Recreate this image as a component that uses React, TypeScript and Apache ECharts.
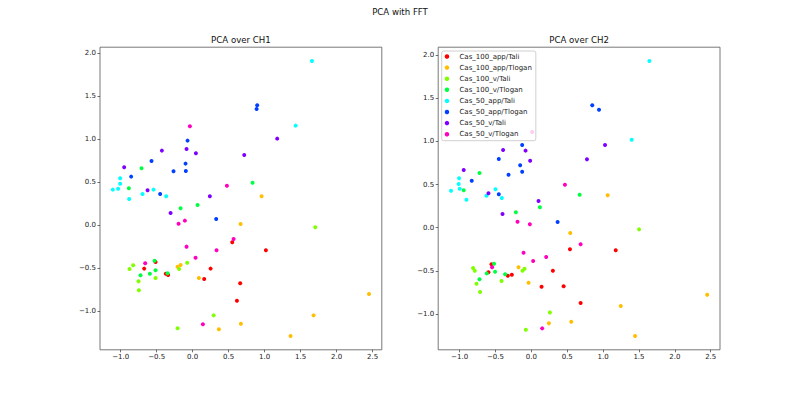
import React, { useEffect, useRef } from "react";
import * as echarts from "echarts";

const seriesNames = [
  "Cas_100_app/Tali",
  "Cas_100_app/Tlogan",
  "Cas_100_v/Tali",
  "Cas_100_v/Tlogan",
  "Cas_50_app/Tali",
  "Cas_50_app/Tlogan",
  "Cas_50_v/Tali",
  "Cas_50_v/Tlogan",
];
const seriesColors = ["#ff0000", "#ffbf00", "#80ff00", "#00ff40", "#00ffff", "#0040ff", "#8000ff", "#ff00bf"];

const xTicks = [-1, -0.5, 0, 0.5, 1, 1.5, 2, 2.5];
const yTicks = [-1, -0.5, 0, 0.5, 1, 1.5, 2];

// ---- CH1 ----
const ch1App100Tali = [[0.550, -0.197], [1.018, -0.290], [0.249, -0.502], [0.160, -0.623], [-0.516, -0.425], [-0.674, -0.502], [-0.373, -0.561], [-0.341, -0.576], [0.661, -0.673], [0.615, -0.874]];
const ch1App100Tlogan = [[0.958, 0.338], [0.666, 0.016], [-0.168, -0.460], [-0.210, -0.480], [0.086, -0.611], [2.451, -0.797], [1.681, -1.045], [0.364, -1.207], [0.670, -1.142], [1.361, -1.285]];
const ch1V100Tali = [[-0.827, -0.464], [-0.878, -0.506], [-0.516, -0.611], [-0.752, -0.650], [-0.748, -0.754], [0.291, -1.045], [-0.210, -1.195], [-0.076, -0.433], [-0.188, -0.506], [1.704, -0.022]];
const ch1V100Tlogan = [[-0.711, 0.663], [-0.887, 0.431], [0.833, 0.496], [0.068, 0.237], [-0.168, 0.199], [-0.530, -0.410], [-0.725, -0.580], [-0.595, -0.561], [-0.516, -0.522], [-0.349, -0.557]];
const ch1App50Tali = [[1.658, 1.909], [1.431, 1.158], [-1.008, 0.547], [-1.008, 0.484], [-1.110, 0.415], [-1.036, 0.426], [-0.544, 0.415], [-0.697, 0.365], [-0.368, 0.338], [-0.883, 0.307]];
const ch1App50Tlogan = [[0.897, 1.395], [0.889, 1.352], [-0.071, 0.984], [-0.572, 0.748], [-0.099, 0.717], [-0.095, 0.632], [-0.266, 0.628], [-0.855, 0.566], [-0.452, 0.365], [0.327, 0.074]];
const ch1V50Tali = [[1.175, 1.007], [-0.428, 0.868], [-0.085, 0.887], [0.045, 0.837], [0.717, 0.818], [-0.952, 0.675], [-0.627, 0.408], [0.239, 0.338], [-0.307, 0.144]];
const ch1V50Tlogan = [[-0.039, 1.151], [0.476, 0.461], [-0.108, 0.055], [-0.196, 0.020], [0.569, -0.158], [-0.085, -0.247], [0.332, -0.290], [0.040, -0.375], [-0.660, -0.441], [0.142, -1.149]];

// ---- CH2 ----
const ch2App100Tali = [[0.538, -0.250], [1.176, -0.262], [0.300, -0.498], [-0.556, -0.424], [-0.598, -0.517], [-0.328, -0.556], [-0.272, -0.545], [0.142, -0.684], [0.450, -0.679], [0.687, -0.873]];
const ch2App100Tlogan = [[1.064, 0.375], [0.542, -0.061], [-0.179, -0.459], [-0.039, -0.637], [2.451, -0.776], [1.246, -0.907], [0.244, -1.108], [0.556, -1.089], [1.446, -1.255]];
const ch2V100Tali = [[1.501, -0.019], [-0.095, -0.475], [-0.123, -0.498], [-0.813, -0.467], [-0.789, -0.498], [-0.765, -0.649], [-0.416, -0.618], [-0.715, -0.745], [0.258, -0.981], [-0.077, -1.182]];
const ch2V100Tlogan = [[-0.723, 0.634], [-0.943, 0.433], [0.673, 0.382], [0.119, 0.236], [-0.216, 0.178], [-0.520, -0.417], [-0.622, -0.529], [-0.506, -0.510], [-0.366, -0.540], [-0.723, -0.598]];
const ch2App50Tali = [[1.645, 1.932], [1.399, 1.020], [-1.008, 0.572], [-1.013, 0.506], [-0.999, 0.452], [-1.120, 0.429], [-0.500, 0.445], [-0.626, 0.371], [-0.412, 0.344], [-0.905, 0.325]];
const ch2App50Tlogan = [[0.849, 1.418], [0.943, 1.367], [-0.128, 0.958], [-0.454, 0.796], [-0.156, 0.723], [-0.128, 0.649], [-0.318, 0.614], [-0.831, 0.545], [-0.454, 0.387], [0.366, 0.066]];
const ch2V50Tali = [[1.027, 0.958], [-0.394, 0.900], [-0.081, 0.893], [-0.017, 0.776], [0.775, 0.792], [-0.943, 0.669], [-0.598, 0.399], [0.100, 0.309], [-0.402, 0.159]];
const ch2V50Tlogan = [[0.011, 1.109], [0.468, 0.498], [-0.193, 0.070], [-0.021, 0.039], [0.687, -0.192], [-0.109, -0.290], [0.207, -0.340], [0.025, -0.386], [-0.547, -0.459], [0.151, -1.166]];

const ch1Series = [ch1App100Tali, ch1App100Tlogan, ch1V100Tali, ch1V100Tlogan, ch1App50Tali, ch1App50Tlogan, ch1V50Tali, ch1V50Tlogan];
const ch2Series = [ch2App100Tali, ch2App100Tlogan, ch2V100Tali, ch2V100Tlogan, ch2App50Tali, ch2App50Tlogan, ch2V50Tali, ch2V50Tlogan];

const FONT = "DejaVu Sans";

function range(sets: number[][][], dim: number): [number, number] {
  let lo = Infinity;
  let hi = -Infinity;
  sets.forEach((s) => s.forEach((p) => { lo = Math.min(lo, p[dim]); hi = Math.max(hi, p[dim]); }));
  const m = (hi - lo) * 0.05;
  return [lo - m, hi + m];
}

const fmt = (v: number) => (v < 0 ? "\u2212" : "") + Math.abs(v).toFixed(1);

export default function App() {
  const ref = useRef<HTMLDivElement>(null);
  useEffect(() => {
    if (!ref.current) return;
    const chart = echarts.init(ref.current, undefined, { renderer: "svg" });
    const grids = [
      { left: 100, top: 47.2, width: 281.8, height: 302.6 },
      { left: 438.2, top: 47.2, width: 281.8, height: 302.6 },
    ];
    const all = [ch1Series, ch2Series];
    const axisCommon = (ticks: number[]) => ({
      axisLine: { show: false, onZero: false },
      splitLine: { show: false },
      axisTick: { show: true, length: 2.5, customValues: ticks, lineStyle: { color: "#333", width: 0.7 } },
      axisLabel: { customValues: ticks, formatter: fmt, fontSize: 7, color: "#222", margin: 4, fontFamily: FONT },
    });
    const xAxis = all.map((sets, i) => {
      const [min, max] = range(sets, 0);
      return { type: "value", gridIndex: i, position: "bottom", min, max, ...axisCommon(xTicks) };
    });
    const yAxis = all.map((sets, i) => {
      const [min, max] = range(sets, 1);
      return { type: "value", gridIndex: i, position: "left", min, max, ...axisCommon(yTicks) };
    });
    const series: any[] = [];
    all.forEach((sets, gi) => {
      sets.forEach((data, si) => {
        series.push({
          type: "scatter",
          name: seriesNames[si],
          xAxisIndex: gi,
          yAxisIndex: gi,
          data,
          symbol: "circle",
          symbolSize: 4,
          itemStyle: { color: seriesColors[si], opacity: 1 },
        });
      });
    });
    chart.setOption({
      animation: false,
      backgroundColor: "#ffffff",
      grid: grids.map((g) => ({ ...g, show: true, borderColor: "#555", borderWidth: 0.8, backgroundColor: "transparent" })),
      xAxis,
      yAxis,
      series,
      legend: {
        data: seriesNames,
        orient: "vertical",
        left: 441.7,
        top: 51,
        icon: "circle",
        itemWidth: 15,
        itemHeight: 4.5,
        itemGap: 4.1,
        padding: [2, 4, 3, 3],
        backgroundColor: "rgba(255,255,255,0.8)",
        borderColor: "#d0d0d0",
        borderWidth: 1,
        borderRadius: 2,
        selectedMode: false,
        textStyle: { fontSize: 7, fontFamily: FONT, color: "#222", lineHeight: 7 },
      },
      graphic: [
        { type: "text", x: 400, y: 12, style: { text: "PCA with FFT", fontSize: 8.6, fontFamily: FONT, fill: "#111", align: "center", verticalAlign: "middle" } },
        { type: "text", x: 240.9, y: 39.5, style: { text: "PCA over CH1", fontSize: 8.6, fontFamily: FONT, fill: "#111", align: "center", verticalAlign: "middle" } },
        { type: "text", x: 579.1, y: 39.5, style: { text: "PCA over CH2", fontSize: 8.6, fontFamily: FONT, fill: "#111", align: "center", verticalAlign: "middle" } },
      ],
    });
    return () => chart.dispose();
  }, []);
  return <div ref={ref} style={{ position: "fixed", left: 0, top: 0, width: 800, height: 393 }} />;
}
